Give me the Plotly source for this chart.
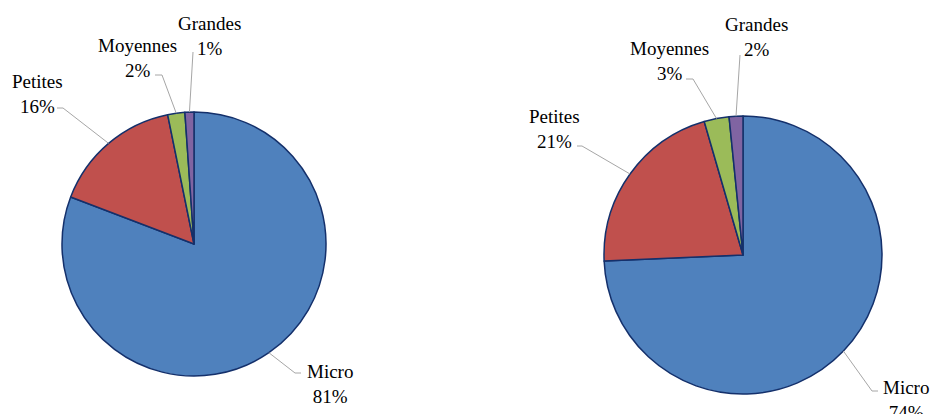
import math
import plotly.graph_objects as go

# ---- data ----
categories = ["Micro", "Petites", "Moyennes", "Grandes"]
left_values = [80.8, 16.0, 2.1, 1.1]
right_values = [74.3, 21.2, 2.9, 1.6]
colors = ["#4F81BD", "#C0504D", "#9BBB59", "#8064A2"]

W, H = 935, 414
FONT = "Liberation Serif"

# ---- layout constants (pixels) ----
pies = [
    dict(values=left_values, cx=194, cy=244, r=132,
         labels={"Micro": (329.5, 383.5), "Petites": (37, 93.5),
                 "Moyennes": (137.5, 58.5), "Grandes": (209, 36)},
         elbows={"Micro": [(295, 373), (301, 373)],
                 "Petites": [(63, 108), (57, 108)],
                 "Moyennes": [(162, 75), (155, 75)],
                 "Grandes": [(193, 52)]}),
    dict(values=right_values, cx=743, cy=255, r=139,
         labels={"Micro": (906, 400), "Petites": (554, 128.5),
                 "Moyennes": (669, 61), "Grandes": (756, 37.5)},
         elbows={"Micro": [(872, 391), (878, 391)],
                 "Petites": [(582, 146), (577, 146)],
                 "Moyennes": [(693, 79), (686, 79)],
                 "Grandes": [(740, 55)]}),
]


def px(x):
    return x / W


def py(y):
    return 1 - y / H


fig = go.Figure()
annotations = []
shapes = []
for p in pies:
    cx, cy, r = p["cx"], p["cy"], p["r"]
    fig.add_trace(go.Pie(
        labels=categories, values=p["values"], sort=False,
        direction="clockwise", rotation=0,
        marker=dict(colors=colors, line=dict(color="#14306B", width=1.5)),
        textinfo="none", hoverinfo="label+percent", showlegend=False,
        domain=dict(x=[px(cx - r), px(cx + r)], y=[py(cy + r), py(cy - r)]),
    ))
    total = sum(p["values"])
    cum = 0.0
    for cat, v in zip(categories, p["values"]):
        mid = (cum + v / 2) / total
        cum += v
        th = 2 * math.pi * mid
        ax, ay = cx + r * math.sin(th), cy - r * math.cos(th)
        pts = [(ax, ay)] + p["elbows"][cat]
        path = "M " + " L ".join(f"{px(x)},{py(y)}" for x, y in pts)
        shapes.append(dict(type="path", path=path, xref="paper", yref="paper",
                           line=dict(color="#A6A6A6", width=1)))
        lx, ly = p["labels"][cat]
        pct = round(100 * v / total)
        annotations.append(dict(
            x=px(lx), y=py(ly), xref="paper", yref="paper",
            xanchor="center", yanchor="middle", showarrow=False,
            text=f"{cat}<br>{pct}%", align="center",
            font=dict(family=FONT, size=19, color="#000000"),
        ))

fig.update_layout(
    width=W, height=H, margin=dict(l=0, r=0, t=0, b=0),
    paper_bgcolor="white", plot_bgcolor="white",
    annotations=annotations, shapes=shapes,
)
fig.write_html("out.html", config={"displayModeBar": False},
               post_script="document.body.style.margin='0';")
